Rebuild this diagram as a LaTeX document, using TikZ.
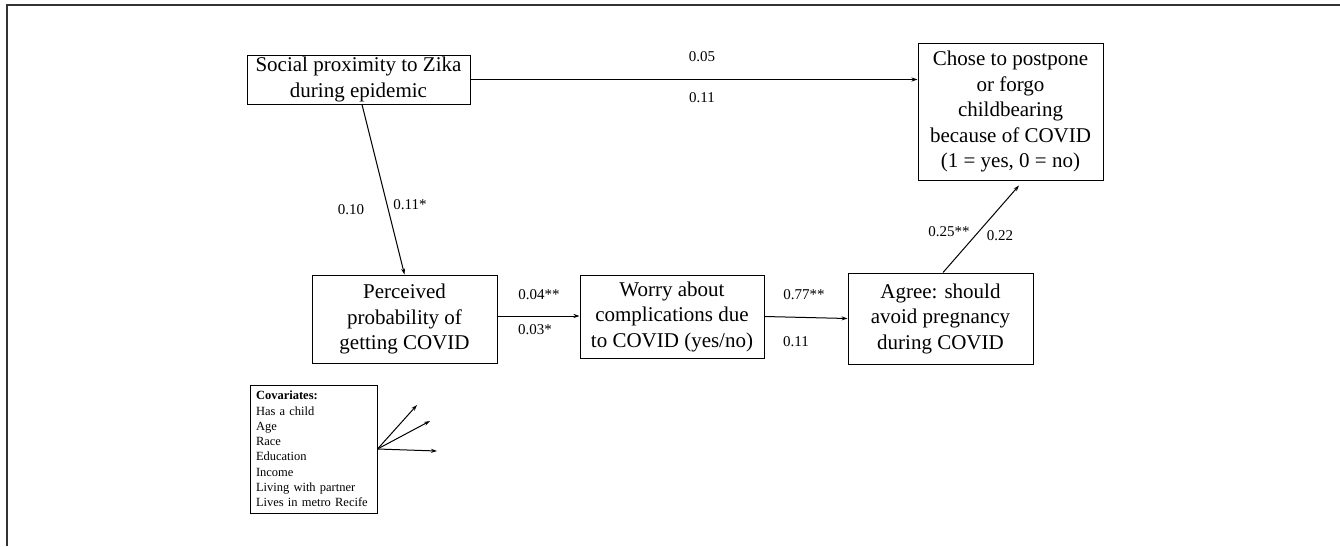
\documentclass[tikz,border=0pt]{standalone}
\usepackage{fontspec}
\setmainfont{Liberation Serif}
\usetikzlibrary{arrows.meta}
\begin{document}
\begin{tikzpicture}[x=1pt,y=-1pt,
  box/.style={draw, line width=1pt, align=center, inner sep=0pt,
    font=\fontsize{21}{25.5}\selectfont},
  lab/.style={font=\fontsize{15}{17}\selectfont, inner sep=0pt},
  arr/.style={line width=1pt, -{Stealth[length=6pt,width=4pt]}}]
\useasboundingbox (0,0) rectangle (1340,546);
\draw[line width=2pt, draw=black!80] (7,546) -- (7,5) -- (1340,5);

\node[box, minimum width=223pt, minimum height=49pt] (soc) at (358.5,79.5)
  {Social proximity to Zika\\during epidemic};
\node[box, minimum width=185pt, minimum height=137pt] (cho) at (1010.5,111.5)
  {Chose to postpone\\or forgo\\childbearing\\because of COVID\\(1 = yes, 0 = no)};
\node[box, minimum width=185pt, minimum height=88pt] (per) at (404.5,319)
  {Perceived\\probability of\\getting COVID};
\node[box, minimum width=184pt, minimum height=83pt] (wor) at (672,316.5)
  {Worry about\\complications due\\to COVID (yes/no)};
\node[box, minimum width=185pt, minimum height=91pt] (agr) at (940.5,318.5)
  {Agree: should\\avoid pregnancy\\during COVID};
\node[draw, line width=1pt, minimum width=127pt, minimum height=128pt,
  text width=115pt, inner xsep=6pt, inner ysep=0pt, align=left,
  font=\fontsize{12.5}{15.3}\selectfont] (cov) at (313.5,449)
  {\textbf{Covariates:}\\Has a child\\Age\\Race\\Education\\Income\\Living with partner\\Lives in metro Recife};

\coordinate (c1) at (417,405);
\coordinate (c2) at (430,421);
\coordinate (c3) at (437,451);

\draw[arr] (soc.east) -- (soc.east -| cho.west);
\draw[arr] ([xshift=3.5pt]soc.south) -- (per.north);
\draw[arr] ([yshift=3pt]per.east) -- ([yshift=3pt]per.east -| wor.west);
\draw[arr] (wor.east) -- (agr.west);
\draw[arr] ([xshift=2.5pt]agr.north) -- ([xshift=8.5pt,yshift=-5pt]cho.south);
\draw[arr] (cov.east) -- (c1);
\draw[arr] (cov.east) -- (c2);
\draw[arr] (cov.east) -- (c3);

\node[lab] (l1) at (702,57) {0.05};
\node[lab] (l2) at (702,98) {0.11};
\node[lab] (l3) at (351,210) {0.10};
\node[lab] (l4) at (410,205) {0.11*};
\node[lab] (l5) at (539,295) {0.04**};
\node[lab] (l6) at (535,330) {0.03*};
\node[lab] (l7) at (804,295) {0.77**};
\node[lab] (l8) at (796,342) {0.11};
\node[lab] (l9) at (949,232) {0.25**};
\node[lab] (l10) at (1000,236) {0.22};
\end{tikzpicture}
\end{document}
